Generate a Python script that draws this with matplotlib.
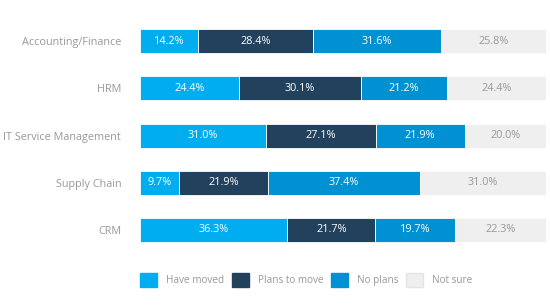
import numpy as np
from matplotlib import pyplot as plt
from matplotlib.patches import Patch

plt.rcParams['font.family'] = ['Open Sans', 'DejaVu Sans']

categories = ["Accounting/Finance", "HRM", "IT Service Management", "Supply Chain", "CRM"]
series = ["Have moved", "Plans to move", "No plans", "Not sure"]
have_moved = [14.2, 24.4, 31.0, 9.7, 36.3]
plans_to_move = [28.4, 30.1, 27.1, 21.9, 21.7]
no_plans = [31.6, 21.2, 21.9, 37.4, 19.7]
not_sure = [25.8, 24.4, 20.0, 31.0, 22.3]

colors = ["#00aeef", "#22415c", "#0091d2", "#efefef"]
text_colors = ["white", "white", "white", "#999999"]

fig = plt.figure(figsize=(5.5, 3.07), dpi=100)
ax = fig.add_axes([0.2545, 0.174, 0.738, 0.769])

y = np.arange(len(categories))
left = np.zeros(len(categories))
for vals, c, tc in zip([have_moved, plans_to_move, no_plans, not_sure], colors, text_colors):
    vals = np.array(vals)
    ax.barh(y, vals, left=left, height=0.51, color=c, edgecolor="white", linewidth=0.6)
    for yi, l, v in zip(y, left, vals):
        ax.text(l + v / 2, yi, f"{v:.1f}%", ha="center", va="center", color=tc, fontsize=7.8)
    left += vals

ax.set_xlim(0, 100)
ax.set_ylim(4.5, -0.5)
ax.set_yticks(y)
ax.set_yticklabels(categories, color="#999999", fontsize=7.8)
ax.tick_params(axis="y", length=0, pad=13.5)
ax.set_xticks([])
for s in ax.spines.values():
    s.set_visible(False)

# legend squares along the bottom
handles = [Patch(facecolor=c, edgecolor="#e4e4e4" if i == 3 else c) for i, c in enumerate(colors)]
leg = fig.legend(handles, series, loc="center left", bbox_to_anchor=(0.2545, 0.088), ncol=4,
                 frameon=False, fontsize=7.2, handlelength=1.7, handleheight=1.7,
                 columnspacing=0.75, handletextpad=0.9, borderaxespad=0, borderpad=0)
for t in leg.get_texts():
    t.set_color("#999999")

fig.savefig("out.png", dpi=100)
